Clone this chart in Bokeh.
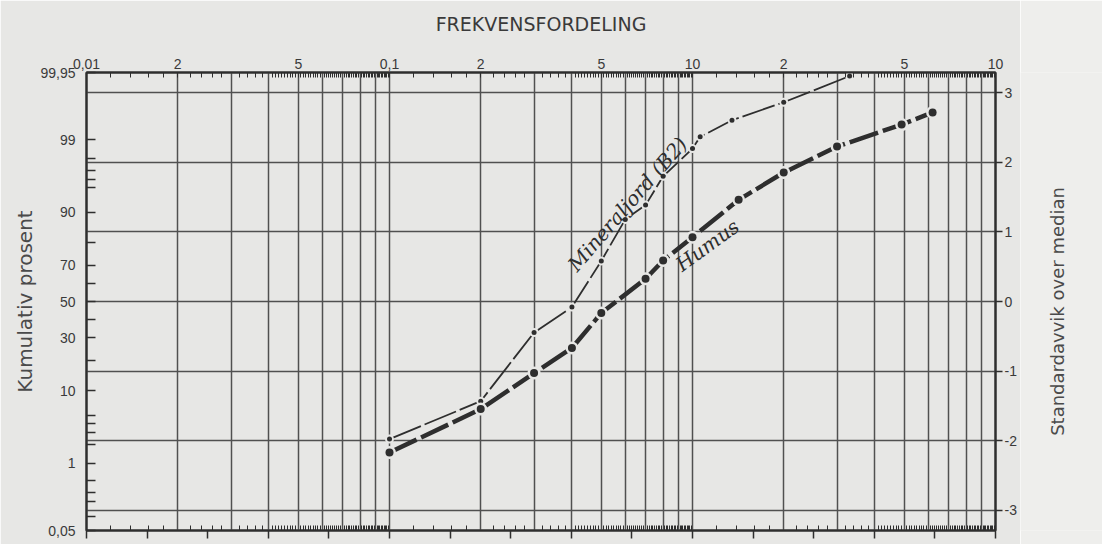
from statistics import NormalDist
import math
import numpy as np
from bokeh.plotting import figure
from bokeh.layouts import row
from bokeh.models import (FixedTicker, LogAxis, LinearAxis, ColumnDataSource, Range1d,
                          CustomLabelingPolicy)
from bokeh.core.properties import value
from bokeh.embed import file_html
from bokeh.resources import INLINE

# ---------------- data ----------------
mineral_size = [0.1, 0.2, 0.3, 0.4, 0.5, 0.6, 0.7, 0.8, 1.0, 1.06, 1.35, 2.0, 3.3]
mineral_pct = [2.4, 7.6, 32.8, 46.8, 72.0, 88.1, 91.7, 96.4, 98.6, 99.1, 99.54, 99.79, 99.94]

humus_size = [0.1, 0.2, 0.3, 0.4, 0.5, 0.7, 0.8, 1.0, 1.42, 2.0, 3.0, 4.9, 6.2]
humus_pct = [1.5, 6.1, 15.2, 25.2, 43.4, 62.8, 72.2, 82.2, 92.8, 96.8, 98.7, 99.45, 99.67]

top_tick_values = [0.01, 0.02, 0.05, 0.1, 0.2, 0.5, 1, 2, 5, 10]
top_tick_labels = ["0,01", "2", "5", "0,1", "2", "5", "10", "2", "5", "10"]

pct_label_values = [99.95, 99, 90, 70, 50, 30, 10, 1, 0.05]
pct_label_texts = ["99,95", "99", "90", "70", "50", "30", "10", "1", "0,05"]
pct_minor_values = [98, 97, 96, 95, 80, 60, 40, 20, 5, 4, 3, 2, 0.5, 0.3, 0.2, 0.1]

sd_values = [3, 2, 1, 0, -1, -2, -3]
sd_labels = ["3", "2", "1", "0", "-1", "-2", "-3"]

title_text = "FREKVENSFORDELING"
left_label = "Kumulativ prosent"
right_label = "Standardavvik over median"
mineral_name = "Mineraljord (B2)"
humus_name = "Humus"

# ---------------- helpers ----------------
ND = NormalDist()


def zscore(p):
    return ND.inv_cdf(p / 100.0)


BG = "#e7e7e5"
BG_STRIP = "#eeeeec"
INK = "#2e2e2e"
GRID = "#505050"
TXT = "#3a3a3a"

decades = [0.01, 0.1, 1.0]
grid_x = [round(b * m, 6) for b in decades for m in range(1, 10)] + [10.0]
dense = []
for b in decades:
    for m in np.arange(1.2, 3.9, 0.2):
        if abs(m - round(m)) > 1e-6:
            dense.append(round(b * m, 6))
    for m in np.arange(4.1, 9.95, 0.1):
        if abs(m - round(m)) > 1e-6:
            dense.append(round(b * m, 6))
r5_ticks = [10 ** (-2 + 0.2 * k) for k in range(16)]

z_lo, z_hi = zscore(0.05), zscore(99.95)

p = figure(width=1020, height=544, x_axis_type="log",
           x_range=Range1d(0.01, 10), y_range=Range1d(z_lo, z_hi),
           output_backend="svg", toolbar_location=None,
           min_border_left=86, min_border_right=25, min_border_top=72, min_border_bottom=14,
           background_fill_color=BG, border_fill_color=BG,
           outline_line_color=INK, outline_line_width=2)
p.title = None

# bottom axis: outer R5 ticks and inner fine ticks, no labels
bx = p.xaxis[0]
bx.ticker = FixedTicker(ticks=r5_ticks, minor_ticks=dense)
bx.major_tick_out = 8
bx.major_tick_in = 0
bx.minor_tick_in = 5
bx.minor_tick_out = 0
bx.major_label_text_font_size = "1px"
bx.major_label_standoff = 0
bx.major_label_policy = CustomLabelingPolicy(code="for (const i of indices) { indices.unset(i) }\nreturn indices")
bx.axis_line_width = 2
bx.axis_line_color = INK
bx.major_tick_line_color = INK
bx.minor_tick_line_color = INK
bx.major_tick_line_width = 1.5

# top axis, carrying the chart heading as its label
tx = LogAxis(ticker=FixedTicker(ticks=top_tick_values, minor_ticks=dense),
             major_label_overrides=dict(zip(top_tick_values, top_tick_labels)))
tx.major_tick_out = 0
tx.major_tick_in = 5
tx.minor_tick_in = 5
tx.minor_tick_out = 0
tx.major_label_standoff = 4
tx.major_label_text_font = "Liberation Sans"
tx.major_label_text_font_size = "14px"
tx.major_label_text_color = TXT
tx.axis_line_width = 2
tx.axis_line_color = INK
tx.major_tick_line_color = INK
tx.minor_tick_line_color = INK
tx.axis_label = title_text
tx.axis_label_text_font = "DejaVu Sans"
tx.axis_label_text_font_size = "19px"
tx.axis_label_text_font_style = "normal"
tx.axis_label_text_color = TXT
tx.axis_label_standoff = 21
p.add_layout(tx, "above")

# left axis (percent on probability scale)
ly = p.yaxis[0]
lz = [zscore(v) for v in pct_label_values]
ly.ticker = FixedTicker(ticks=lz, minor_ticks=[zscore(v) for v in pct_minor_values])
ly.major_label_overrides = dict(zip(lz, pct_label_texts))
ly.major_tick_in = 9
ly.major_tick_out = 0
ly.minor_tick_in = 9
ly.minor_tick_out = 0
ly.major_label_standoff = 11
ly.major_label_text_font = "Liberation Sans"
ly.major_label_text_font_size = "14px"
ly.major_label_text_color = TXT
ly.axis_line_width = 2
ly.axis_line_color = INK
ly.major_tick_line_color = INK
ly.minor_tick_line_color = INK
ly.major_tick_line_width = 1.5
ly.minor_tick_line_width = 1.5
ly.axis_label = left_label
ly.axis_label_text_font = "DejaVu Sans"
ly.axis_label_text_font_size = "20px"
ly.axis_label_text_font_style = "normal"
ly.axis_label_text_color = "#4a4a4a"
ly.axis_label_standoff = 0

# right axis (standard deviations)
ry = LinearAxis(ticker=FixedTicker(ticks=sd_values),
                major_label_overrides=dict(zip(sd_values, sd_labels)))
ry.major_tick_out = 7
ry.major_tick_in = 0
ry.minor_tick_out = 0
ry.minor_tick_in = 0
ry.major_label_standoff = 2
ry.major_label_text_font = "Liberation Sans"
ry.major_label_text_font_size = "14px"
ry.major_label_text_color = TXT
ry.axis_line_width = 2
ry.axis_line_color = INK
ry.major_tick_line_color = INK
ry.major_tick_line_width = 1.5
p.add_layout(ry, "right")

# grids
p.xgrid.ticker = FixedTicker(ticks=grid_x)
p.ygrid.ticker = FixedTicker(ticks=sd_values)
for g in (p.xgrid[0], p.ygrid[0]):
    g.grid_line_color = GRID
    g.grid_line_width = 1.5
    g.grid_line_alpha = 1.0

# series
src_m = ColumnDataSource(dict(x=mineral_size, y=[zscore(v) for v in mineral_pct]))
src_h = ColumnDataSource(dict(x=humus_size, y=[zscore(v) for v in humus_pct]))

p.line("x", "y", source=src_m, line_width=1.8, line_color=INK, line_dash="34 4")
p.scatter("x", "y", source=src_m, size=9, fill_color=BG, line_color=None)
p.scatter("x", "y", source=src_m, size=5, fill_color=INK, line_color=None)

p.line("x", "y", source=src_h, line_width=4.5, line_color=INK, line_dash="30 5")
p.scatter("x", "y", source=src_h, size=13, fill_color=BG, line_color=None)
p.scatter("x", "y", source=src_h, size=8, fill_color=INK, line_color=None)

# handwritten-style series names
p.text(x=[mineral_size[6]], y=[zscore(mineral_pct[6])], text=[mineral_name],
       angle=0.855, x_offset=-18, y_offset=-1, text_align="center", text_baseline="middle",
       text_font=value("DejaVu Serif"), text_font_style="italic", text_font_size="20px",
       text_color=INK)
p.text(x=[humus_size[7]], y=[zscore(humus_pct[7])], text=[humus_name],
       angle=0.63, x_offset=15, y_offset=8, text_align="center", text_baseline="middle",
       text_font=value("DejaVu Serif"), text_font_style="italic", text_font_size="20px",
       text_color=INK)

# right strip carrying the right-hand axis title (reads bottom to top)
p2 = figure(width=82, height=544, x_range=Range1d(0, 1), y_range=Range1d(z_lo, z_hi),
            output_backend="svg", toolbar_location=None,
            x_axis_location=None, y_axis_location=None,
            min_border_left=0, min_border_right=0, min_border_top=72, min_border_bottom=14,
            background_fill_color=BG_STRIP, border_fill_color=BG_STRIP,
            outline_line_color=None)
p2.grid.visible = False
p2.text(x=[0.45], y=[0.0], text=[right_label], angle=math.pi / 2, y_offset=10,
        text_align="center", text_baseline="middle",
        text_font=value("DejaVu Sans"), text_font_size="18px", text_color="#4a4a4a")

layout = row(p, p2)
open("out.html", "w").write(file_html(layout, INLINE))
